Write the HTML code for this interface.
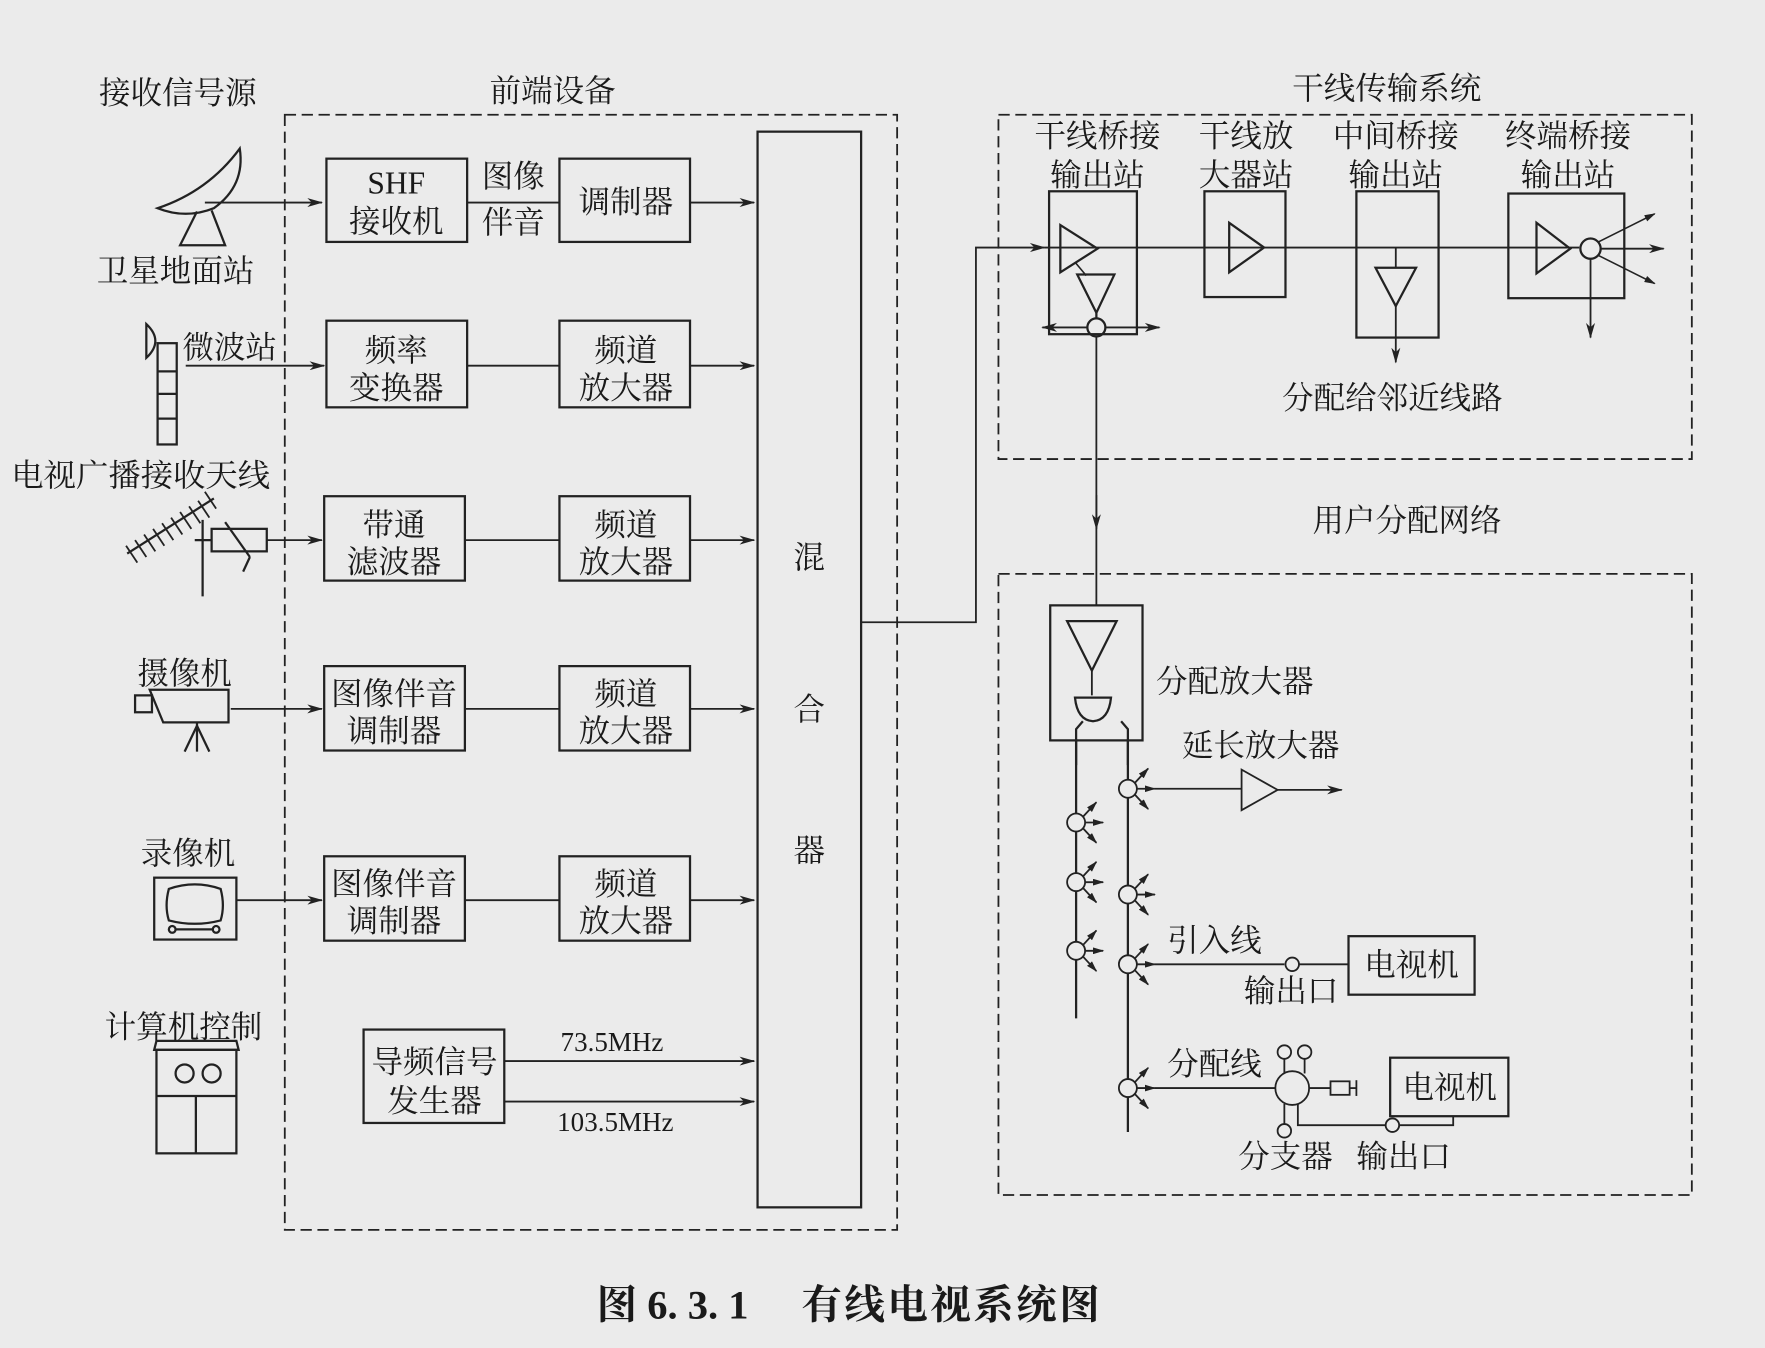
<!DOCTYPE html>
<html><head><meta charset="utf-8"><style>
html,body{margin:0;padding:0;background:#ebebeb;}
svg{display:block}
text{font-family:"Liberation Serif","Noto Serif CJK SC",serif;fill:#1a1a1a;}
</style></head><body>
<svg width="1765" height="1348" viewBox="0 0 1568 1198" preserveAspectRatio="none" xmlns="http://www.w3.org/2000/svg">
<defs>
<marker id="a" markerWidth="14" markerHeight="8" refX="13" refY="4" orient="auto" markerUnits="userSpaceOnUse"><path d="M0,0 L14,4 L0,8 L4,4 Z" fill="#222"/></marker>
<marker id="b" markerWidth="10" markerHeight="6" refX="9" refY="3" orient="auto" markerUnits="userSpaceOnUse"><path d="M0,0 L10,3 L0,6 Z" fill="#222"/></marker>
<g id="tap" stroke="#222" stroke-width="1.6" fill="none"><circle cx="0" cy="0" r="8" fill="#ebebeb"/><line x1="6" y1="-5" x2="18" y2="-18" marker-end="url(#b)"/><line x1="8" y1="0" x2="24" y2="0" marker-end="url(#b)"/><line x1="6" y1="5" x2="18" y2="18" marker-end="url(#b)"/></g>
</defs>
<rect width="1568" height="1198" fill="#ebebeb"/>
<g stroke="#222" stroke-width="2" fill="none">
<rect x="253" y="102" width="544" height="991" stroke-dasharray="10,5" stroke-width="1.6"/>
<rect x="887" y="102" width="616" height="306" stroke-dasharray="10,5" stroke-width="1.6"/>
<rect x="887" y="510" width="616" height="552" stroke-dasharray="10,5" stroke-width="1.6"/>
<rect x="290" y="141" width="125" height="74"/>
<rect x="497" y="141" width="116" height="74"/>
<rect x="290" y="285" width="125" height="77"/>
<rect x="497" y="285" width="116" height="77"/>
<rect x="288" y="441" width="125" height="75"/>
<rect x="497" y="441" width="116" height="75"/>
<rect x="288" y="592" width="125" height="75"/>
<rect x="497" y="592" width="116" height="75"/>
<rect x="288" y="761" width="125" height="75"/>
<rect x="497" y="761" width="116" height="75"/>
<rect x="323" y="915" width="125" height="83"/>
<rect x="673" y="117" width="92" height="956"/>
<g stroke-width="1.6">
<line x1="182" y1="180" x2="286" y2="180" marker-end="url(#a)"/>
<line x1="415" y1="180" x2="497" y2="180"/>
<line x1="613" y1="180" x2="670" y2="180" marker-end="url(#a)"/>
<line x1="165" y1="325" x2="288" y2="325" marker-end="url(#a)"/>
<line x1="415" y1="325" x2="497" y2="325"/>
<line x1="613" y1="325" x2="670" y2="325" marker-end="url(#a)"/>
<line x1="237" y1="480" x2="286" y2="480" marker-end="url(#a)"/>
<line x1="413" y1="480" x2="497" y2="480"/>
<line x1="613" y1="480" x2="670" y2="480" marker-end="url(#a)"/>
<line x1="205" y1="630" x2="286" y2="630" marker-end="url(#a)"/>
<line x1="413" y1="630" x2="497" y2="630"/>
<line x1="613" y1="630" x2="670" y2="630" marker-end="url(#a)"/>
<line x1="210" y1="800" x2="286" y2="800" marker-end="url(#a)"/>
<line x1="413" y1="800" x2="497" y2="800"/>
<line x1="613" y1="800" x2="670" y2="800" marker-end="url(#a)"/>
<line x1="448" y1="943" x2="670" y2="943" marker-end="url(#a)"/>
<line x1="448" y1="979" x2="670" y2="979" marker-end="url(#a)"/>
<polyline points="765,553 867,553 867,220 928,220" marker-end="url(#a)"/>
</g>
<path d="M140,185 Q185,170 213,132 Q218,165 190,185 Q165,195 140,185 Z"/>
<path d="M175,188 L160,218 L200,218 L188,187"/>
<path d="M130,288 Q146,303 130,318 Z"/>
<rect x="140" y="305" width="17" height="90"/>
<line x1="140" y1="330" x2="157" y2="330"/><line x1="140" y1="350" x2="157" y2="350"/><line x1="140" y1="372" x2="157" y2="372"/>
<line x1="113" y1="492" x2="190" y2="443"/>
<g stroke-width="1.6">
<line x1="112" y1="485" x2="122" y2="500"/><line x1="120" y1="480" x2="130" y2="495"/><line x1="128" y1="475" x2="138" y2="490"/><line x1="136" y1="470" x2="146" y2="485"/><line x1="144" y1="465" x2="154" y2="480"/><line x1="152" y1="460" x2="162" y2="475"/><line x1="160" y1="455" x2="170" y2="470"/><line x1="168" y1="450" x2="178" y2="465"/><line x1="176" y1="445" x2="186" y2="460"/><line x1="182" y1="437" x2="192" y2="452"/>
</g>
<line x1="180" y1="462" x2="180" y2="530"/>
<line x1="173" y1="480" x2="188" y2="480"/>
<rect x="188" y="470" width="49" height="20"/>
<line x1="200" y1="464" x2="222" y2="495"/><line x1="222" y1="495" x2="216" y2="508"/>
<rect x="120" y="618" width="15" height="15"/>
<path d="M133,613 L203,613 L203,642 L145,642 Z"/>
<line x1="175" y1="642" x2="175" y2="668"/><line x1="175" y1="645" x2="164" y2="668"/><line x1="175" y1="645" x2="186" y2="668"/>
<rect x="137" y="780" width="73" height="55"/>
<path d="M150,790 Q173,782 196,790 Q200,805 196,818 Q173,824 150,818 Q146,805 150,790 Z"/>
<line x1="155" y1="826" x2="190" y2="826"/><circle cx="153" cy="826" r="3"/><circle cx="192" cy="826" r="3"/>
<path d="M137,933 L139,925 L210,925 L212,933 Z"/>
<rect x="139" y="933" width="71" height="92"/>
<line x1="139" y1="974" x2="210" y2="974"/><line x1="174" y1="974" x2="174" y2="1025"/>
<circle cx="164" cy="954" r="8"/><circle cx="188" cy="954" r="8"/>
<rect x="932" y="170" width="78" height="127"/>
<rect x="1070" y="170" width="72" height="94"/>
<rect x="1205" y="170" width="73" height="130"/>
<rect x="1340" y="172" width="103" height="93"/>
<line x1="928" y1="220" x2="1403" y2="220" stroke-width="1.6"/>
<path d="M942,200 L975,221 L942,242 Z"/>
<line x1="955" y1="233" x2="965" y2="245" stroke-width="1.4"/>
<path d="M957,244 L990,244 L974,278 Z"/>
<line x1="974" y1="278" x2="974" y2="283"/>
<circle cx="974" cy="291" r="8"/>
<line x1="966" y1="291" x2="926" y2="291" marker-end="url(#a)" stroke-width="1.6"/>
<line x1="982" y1="291" x2="1030" y2="291" marker-end="url(#a)" stroke-width="1.6"/>
<line x1="974" y1="299" x2="974" y2="538" stroke-width="1.6"/>
<line x1="974" y1="440" x2="974" y2="470" marker-end="url(#a)" stroke-width="1.6"/>
<path d="M1092,198 L1123,220 L1092,242 Z"/>
<path d="M1222,238 L1258,238 L1240,272 Z"/>
<line x1="1240" y1="220" x2="1240" y2="238" stroke-width="1.6"/>
<line x1="1240" y1="272" x2="1240" y2="322" marker-end="url(#a)" stroke-width="1.6"/>
<path d="M1365,198 L1395,221 L1365,243 Z"/>
<circle cx="1413" cy="221" r="9"/>
<line x1="1422" y1="221" x2="1478" y2="221" marker-end="url(#a)" stroke-width="1.6"/>
<line x1="1420" y1="215" x2="1470" y2="190" marker-end="url(#b)" stroke-width="1.4"/>
<line x1="1420" y1="227" x2="1470" y2="252" marker-end="url(#b)" stroke-width="1.4"/>
<line x1="1413" y1="230" x2="1413" y2="300" marker-end="url(#a)" stroke-width="1.6"/>
<rect x="933" y="538" width="82" height="120"/>
<path d="M948,552 L992,552 L970,596 Z"/>
<line x1="970" y1="596" x2="970" y2="618" stroke-width="1.6"/>
<path d="M955,620 L987,620 Q985,640 971,641 Q957,640 955,620 Z"/>
<polyline points="956,680 956,648 962,641"/><polyline points="1002,680 1002,648 996,641"/>
<line x1="956" y1="657" x2="956" y2="905"/>
<line x1="1002" y1="657" x2="1002" y2="1006"/>
</g>
<use href="#tap" x="956" y="731"/>
<use href="#tap" x="956" y="784"/>
<use href="#tap" x="956" y="845"/>
<use href="#tap" x="1002" y="701"/>
<use href="#tap" x="1002" y="795"/>
<use href="#tap" x="1002" y="857"/>
<use href="#tap" x="1002" y="967"/>
<g stroke="#222" stroke-width="1.6" fill="none">
<line x1="1026" y1="701" x2="1103" y2="701"/>
<path d="M1103,684 L1135,702 L1103,720 Z"/>
<line x1="1135" y1="702" x2="1192" y2="702" marker-end="url(#a)"/>
<line x1="1026" y1="857" x2="1141" y2="857"/>
<circle cx="1148" cy="857" r="6"/>
<line x1="1154" y1="857" x2="1198" y2="857"/>
<rect x="1198" y="832" width="112" height="52" stroke-width="2"/>
<line x1="1026" y1="967" x2="1133" y2="967"/>
<circle cx="1148" cy="967" r="15"/>
<circle cx="1141" cy="935" r="6"/><circle cx="1159" cy="935" r="6"/>
<line x1="1141" y1="941" x2="1141" y2="954"/><line x1="1159" y1="941" x2="1159" y2="954"/>
<circle cx="1141" cy="1005" r="6"/><line x1="1141" y1="981" x2="1141" y2="999"/>
<line x1="1163" y1="967" x2="1182" y2="967"/>
<rect x="1182" y="961" width="17" height="12"/>
<line x1="1199" y1="967" x2="1205" y2="967"/><line x1="1205" y1="960" x2="1205" y2="974"/>
<rect x="1235" y="940" width="105" height="52" stroke-width="2"/>
<polyline points="1153,981 1153,1000 1231,1000"/>
<circle cx="1237" cy="1000" r="6"/>
<polyline points="1243,1000 1291,1000 1291,992"/>
</g>
<g font-size="28">
<text x="88" y="92">接收信号源</text>
<text x="435" y="90">前端设备</text>
<text x="86" y="250">卫星地面站</text>
<text x="162" y="318">微波站</text>
<text x="10" y="432" textLength="230" lengthAdjust="spacingAndGlyphs">电视广播接收天线</text>
<text x="122" y="608">摄像机</text>
<text x="125" y="768">录像机</text>
<text x="93" y="922">计算机控制</text>
<g text-anchor="middle">
<text x="352" y="172">SHF</text><text x="352" y="206">接收机</text>
<text x="456" y="166">图像</text><text x="456" y="207">伴音</text>
<text x="556" y="189">调制器</text>
<text x="352" y="321">频率</text><text x="352" y="354">变换器</text>
<text x="556" y="321">频道</text><text x="556" y="354">放大器</text>
<text x="350" y="476">带通</text><text x="350" y="509">滤波器</text>
<text x="556" y="476">频道</text><text x="556" y="509">放大器</text>
<text x="350" y="626">图像伴音</text><text x="350" y="659">调制器</text>
<text x="556" y="626">频道</text><text x="556" y="659">放大器</text>
<text x="350" y="795">图像伴音</text><text x="350" y="828">调制器</text>
<text x="556" y="795">频道</text><text x="556" y="828">放大器</text>
<text x="386" y="953">导频信号</text><text x="386" y="988">发生器</text>
<text x="719" y="505">混</text><text x="719" y="640">合</text><text x="719" y="765">器</text>
<text x="975" y="130">干线桥接</text><text x="975" y="165">输出站</text>
<text x="1107" y="130">干线放</text><text x="1107" y="165">大器站</text>
<text x="1240" y="130">中间桥接</text><text x="1240" y="165">输出站</text>
<text x="1393" y="130">终端桥接</text><text x="1393" y="165">输出站</text>
<text x="1232" y="88">干线传输系统</text>
<text x="1237" y="363">分配给邻近线路</text>
<text x="1250" y="472">用户分配网络</text>
<text x="1254" y="867">电视机</text>
<text x="1288" y="976">电视机</text>
</g>
<text x="1027" y="615">分配放大器</text>
<text x="1050" y="672">延长放大器</text>
<text x="1037" y="845">引入线</text>
<text x="1105" y="890">输出口</text>
<text x="1037" y="955">分配线</text>
<text x="1100" y="1037">分支器</text>
<text x="1205" y="1037">输出口</text>
</g>
<text x="498" y="934" font-size="24">73.5MHz</text>
<text x="495" y="1005" font-size="24">103.5MHz</text>
<text x="530" y="1172" font-size="36" font-weight="bold">图 6. 3. 1</text>
<text x="712" y="1172" font-size="36" font-weight="bold" textLength="265" lengthAdjust="spacing">有线电视系统图</text>
</svg>
</body></html>
